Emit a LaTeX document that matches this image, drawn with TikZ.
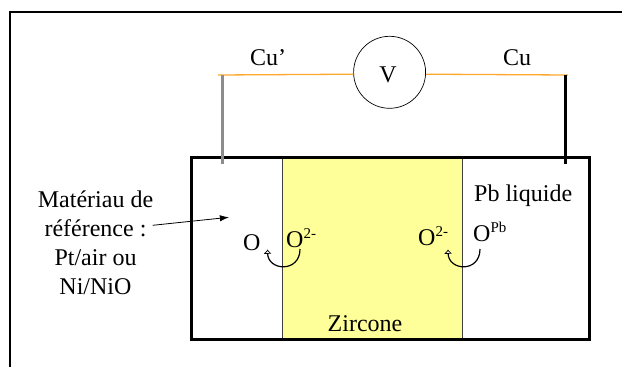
\documentclass[tikz,border=0pt]{standalone}
\usepackage{fontspec}
\setmainfont{Liberation Serif}
\usepackage{xcolor}
\usetikzlibrary{arrows.meta,positioning}
\definecolor{wirecu}{HTML}{FFA82E}
\definecolor{zirconia}{HTML}{FFFF99}
\newcommand{\expo}[1]{\raisebox{8.5pt}{\fontsize{15}{15}\selectfont #1}}
\begin{document}
\begin{tikzpicture}[
  x=1pt,y=-1pt,
  every node/.style={font=\fontsize{24}{29}\selectfont},
  lbl/.style={inner sep=0pt,anchor=base west},
  cell/.style={draw,line width=3pt,minimum width=397.5pt,minimum height=182pt,inner sep=0pt},
  electrolyte/.style={draw=black!75,line width=1pt,fill=zirconia,minimum width=180pt,minimum height=182pt,inner sep=0pt},
  meter/.style={draw,circle,line width=0.7pt,minimum size=72pt,inner sep=0pt},
  wire/.style={wirecu,line width=1.3pt},
  lead/.style={line width=3pt},
  pointer/.style={-{Latex[length=3.2mm,width=2.2mm]},line width=0.8pt},
  transfer/.style={-{Latex[open,fill=white,length=1.5mm,width=2.8mm,line width=0.7pt]},line width=1.2pt}
]
\useasboundingbox (0,0) rectangle (622,367);
\coordinate (frameA) at (10,367);
\coordinate (frameB) at (10,12);
\coordinate (frameC) at (622,12);
\draw[line width=2.6pt] (frameA) -- (frameB) -- (frameC);
\node[electrolyte] (zircone) at (372.3,248.5) {};
\node[cell] (cell) at (390.3,248.5) {};
\node[meter] (meter) at (389.6,72.3) {};
\node[lbl,anchor=center] (vlabel) at (388,75) {V};
\coordinate (wireL) at (218,75);
\coordinate (wireR) at (568,75);
\coordinate (leadLtop) at (222.5,75);
\coordinate (leadLend) at (222.5,164);
\coordinate (leadRtop) at (565.5,75);
\coordinate (leadRend) at (565.5,164);
\draw[wire] (wireL) -- (meter.183);
\draw[wire] (meter.-3) -- (wireR);
\draw[lead,black!45] (leadLtop) -- (leadLend);
\draw[lead] (leadRtop) -- (leadRend);
\node[lbl] (cuL) at (250,65) {Cu’};
\node[lbl] (cuR) at (503,65) {Cu};
\node[lbl] (lead) at (474,201) {Pb liquide};
\node[lbl,anchor=base] (zlabel) at (365,331) {Zircone};
\node[align=center,inner sep=0pt] (refmat) at (95.5,243) {Matériau de\\référence :\\Pt/air ou\\Ni/NiO};
\coordinate (refmatEnd) at (152.7,225.3);
\coordinate (refmatTip) at (229,217.3);
\draw[pointer] (refmatEnd) -- (refmatTip);
\node[lbl] (oxA) at (243,250) {O};
\node[lbl] (ionA) at (286,247) {O\expo{2-}};
\node[lbl] (ionB) at (418,245) {O\expo{2-}};
\node[lbl] (oxB) at (473,241) {O\expo{Pb}};
\coordinate (arcAstart) at (300,249);
\coordinate (arcAend) at (267.5,249.5);
\coordinate (arcBstart) at (480,249);
\coordinate (arcBend) at (448,249.5);
\draw[transfer] (arcAstart) .. controls (300,273) and (268,271) .. (arcAend);
\draw[transfer] (arcBstart) .. controls (480,273) and (448.5,271) .. (arcBend);
\end{tikzpicture}
\end{document}
